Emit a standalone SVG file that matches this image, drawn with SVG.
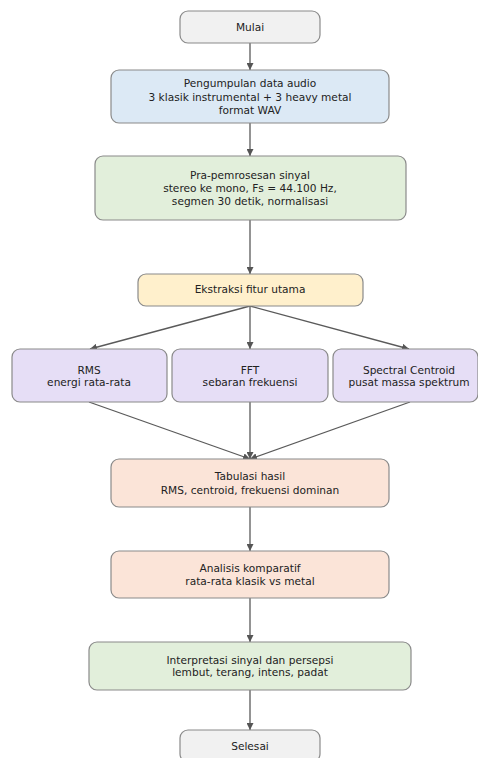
<svg xmlns="http://www.w3.org/2000/svg" width="478" height="758" viewBox="0 0 478 758">
<defs>
<marker id="ah" viewBox="0 0 10 10" refX="10" refY="5" markerWidth="7" markerHeight="7" markerUnits="userSpaceOnUse" orient="auto">
<path d="M0,0 L10,5 L0,10 z" fill="#555"/>
</marker>
<style>
.box{stroke:#8a8a8a;stroke-width:1.2}
.t{font-family:"DejaVu Sans",sans-serif;font-size:10.6px;fill:#222;text-anchor:middle}
.c{stroke:#5a5a5a;stroke-width:1.3;fill:none;marker-end:url(#ah)}
.gray{fill:#f1f1f1}.blue{fill:#dce9f5}.green{fill:#e2efdb}.yellow{fill:#fff0cc}.purple{fill:#e6def6}.peach{fill:#fbe4d8}
</style>
</defs>
<rect width="478" height="758" fill="#fff"/>
<g id="connectors">
<line class="c" x1="250" y1="43" x2="250" y2="70"/>
<line class="c" x1="250" y1="123" x2="250" y2="156"/>
<line class="c" x1="250" y1="220" x2="250" y2="274"/>
<line class="c" x1="250" y1="306" x2="90" y2="349"/>
<line class="c" x1="250" y1="306" x2="250" y2="349"/>
<line class="c" x1="250" y1="306" x2="409" y2="349"/>
<line class="c" x1="89" y1="402" x2="250" y2="459"/>
<line class="c" x1="250" y1="402" x2="250" y2="459"/>
<line class="c" x1="410" y1="402" x2="250" y2="459"/>
<line class="c" x1="250" y1="507" x2="250" y2="551"/>
<line class="c" x1="250" y1="598" x2="250" y2="642"/>
<line class="c" x1="250" y1="690" x2="250" y2="730"/>
</g>
<g id="mulai"><rect class="box gray" x="180" y="11" width="140" height="32" rx="8"/><text class="t" x="250" y="30.5">Mulai</text></g>
<g id="pengumpulan"><rect class="box blue" x="111" y="70" width="278" height="53" rx="8"/>
<text class="t" x="250" y="86.5">Pengumpulan data audio</text>
<text class="t" x="250" y="101">3 klasik instrumental + 3 heavy metal</text>
<text class="t" x="250" y="114">format WAV</text></g>
<g id="prapemrosesan"><rect class="box green" x="95" y="156" width="311" height="64" rx="8"/>
<text class="t" x="250" y="178.5">Pra-pemrosesan sinyal</text>
<text class="t" x="250" y="191.5">stereo ke mono, Fs = 44.100 Hz,</text>
<text class="t" x="250" y="204.5">segmen 30 detik, normalisasi</text></g>
<g id="ekstraksi"><rect class="box yellow" x="138" y="274" width="225" height="32" rx="8"/>
<text class="t" x="250" y="293">Ekstraksi fitur utama</text></g>
<g id="rms"><rect class="box purple" x="12" y="349" width="155" height="53" rx="8"/>
<text class="t" x="89" y="373.5">RMS</text><text class="t" x="89" y="386">energi rata-rata</text></g>
<g id="fft"><rect class="box purple" x="172" y="349" width="156" height="53" rx="8"/>
<text class="t" x="250" y="373.5">FFT</text><text class="t" x="250" y="386">sebaran frekuensi</text></g>
<g id="centroid"><rect class="box purple" x="333" y="349" width="145" height="53" rx="8"/>
<text class="t" x="409" y="373.5">Spectral Centroid</text><text class="t" x="409" y="386">pusat massa spektrum</text></g>
<g id="tabulasi"><rect class="box peach" x="111" y="459" width="278" height="48" rx="8"/>
<text class="t" x="250" y="479.5">Tabulasi hasil</text><text class="t" x="250" y="493.5">RMS, centroid, frekuensi dominan</text></g>
<g id="analisis"><rect class="box peach" x="111" y="551" width="278" height="47" rx="8"/>
<text class="t" x="250" y="571.5">Analisis komparatif</text><text class="t" x="250" y="584.5">rata-rata klasik vs metal</text></g>
<g id="interpretasi"><rect class="box green" x="89" y="642" width="322" height="48" rx="8"/>
<text class="t" x="250" y="663.5">Interpretasi sinyal dan persepsi</text><text class="t" x="250" y="676">lembut, terang, intens, padat</text></g>
<g id="selesai"><rect class="box gray" x="180" y="730" width="140" height="32" rx="8"/>
<text class="t" x="250" y="749.5">Selesai</text></g>
</svg>
